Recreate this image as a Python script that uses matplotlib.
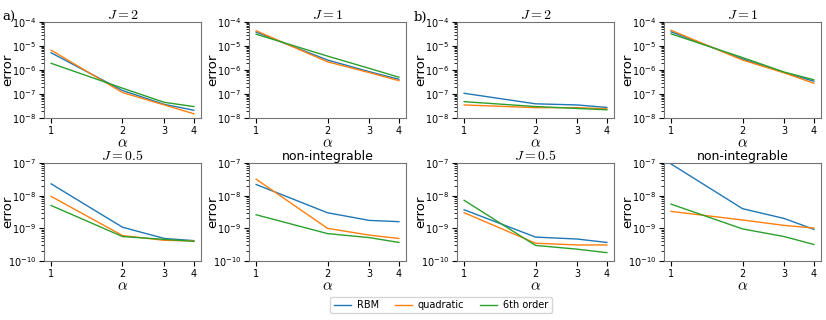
import numpy as np
from matplotlib import pyplot as plt
from matplotlib.ticker import NullLocator, LogLocator

plt.rcParams["mathtext.fontset"] = "cm"

alpha = [1, 2, 3, 4]

# panel a)
a_J2_rbm = [5.2e-6, 1.4e-7, 3.7e-8, 2.1e-8]
a_J2_quad = [6.7e-6, 1.15e-7, 3.5e-8, 1.5e-8]
a_J2_six = [1.9e-6, 1.75e-7, 4.5e-8, 3.0e-8]

a_J1_rbm = [3.8e-5, 2.6e-6, 8.5e-7, 4.1e-7]
a_J1_quad = [4.3e-5, 2.2e-6, 7.8e-7, 3.6e-7]
a_J1_six = [3.1e-5, 3.8e-6, 1.17e-6, 5.0e-7]

a_J05_rbm = [2.3e-8, 1.08e-9, 4.9e-10, 4.2e-10]
a_J05_quad = [9.5e-9, 6.0e-10, 4.3e-10, 4.1e-10]
a_J05_six = [5.0e-9, 5.6e-10, 4.6e-10, 4.0e-10]

a_ni_rbm = [2.2e-8, 3.0e-9, 1.75e-9, 1.6e-9]
a_ni_quad = [3.2e-8, 1.0e-9, 6.2e-10, 4.9e-10]
a_ni_six = [2.6e-9, 6.9e-10, 5.2e-10, 3.7e-10]

# panel b)
b_J2_rbm = [1.07e-7, 3.9e-8, 3.5e-8, 2.75e-8]
b_J2_quad = [3.5e-8, 2.7e-8, 2.7e-8, 2.4e-8]
b_J2_six = [4.8e-8, 3.0e-8, 2.5e-8, 2.2e-8]

b_J1_rbm = [3.9e-5, 2.9e-6, 7.8e-7, 3.4e-7]
b_J1_quad = [4.5e-5, 2.6e-6, 7.6e-7, 2.8e-7]
b_J1_six = [3.2e-5, 3.3e-6, 8.2e-7, 3.9e-7]

b_J05_rbm = [3.7e-9, 5.4e-10, 4.7e-10, 3.7e-10]
b_J05_quad = [3.0e-9, 3.5e-10, 3.1e-10, 3.1e-10]
b_J05_six = [7.2e-9, 3.0e-10, 2.3e-10, 1.8e-10]

b_ni_rbm = [9.3e-8, 4.0e-9, 2.0e-9, 9.3e-10]
b_ni_quad = [3.3e-9, 1.8e-9, 1.23e-9, 1.02e-9]
b_ni_six = [5.5e-9, 9.6e-10, 5.6e-10, 3.2e-10]

titles_top = [r"$J=2$", r"$J=1$", r"$J=2$", r"$J=1$"]
titles_bot = [r"$J=0.5$", "non-integrable", r"$J=0.5$", "non-integrable"]

top_data = [(a_J2_rbm, a_J2_quad, a_J2_six), (a_J1_rbm, a_J1_quad, a_J1_six),
            (b_J2_rbm, b_J2_quad, b_J2_six), (b_J1_rbm, b_J1_quad, b_J1_six)]
bot_data = [(a_J05_rbm, a_J05_quad, a_J05_six), (a_ni_rbm, a_ni_quad, a_ni_six),
            (b_J05_rbm, b_J05_quad, b_J05_six), (b_ni_rbm, b_ni_quad, b_ni_six)]

W, H = 826, 320
fig = plt.figure(figsize=(W / 100, H / 100), dpi=100)

col_left = [44, 249, 457, 664]
col_w = 157


def make_panel(left, top, bottom, series, title, ylim):
   ax = fig.add_axes([left / W, (H - bottom) / H, col_w / W, (bottom - top) / H])
   for s, lab in zip(series, ["RBM", "quadratic", "6th order"]):
      ax.plot(alpha, s, lw=1.0, label=lab)
   ax.set_xscale("log")
   ax.set_yscale("log")
   ax.set_ylim(*ylim)
   ax.yaxis.set_major_locator(LogLocator(base=10, numticks=20))
   ax.yaxis.set_minor_locator(LogLocator(base=10, subs=np.arange(2, 10), numticks=20))
   ax.set_xticks(alpha)
   ax.set_xticklabels([str(a) for a in alpha])
   ax.xaxis.set_minor_locator(NullLocator())
   ax.tick_params(labelsize=7, pad=2)
   ax.tick_params(which="minor", length=2)
   if title.startswith("$"):
      ax.set_title(title, fontsize=10, pad=2)
   else:
      ax.set_title(title, fontsize=9, pad=2)
   ax.set_ylabel("error", fontsize=9.5)
   ax.yaxis.set_label_coords(-0.19, 0.5)
   ax.set_xlabel(r"$\alpha$", fontsize=11, labelpad=0)
   for sp in ax.spines.values():
      sp.set_color("0.45")
   return ax


for i in range(4):
   make_panel(col_left[i], 22, 118, top_data[i], titles_top[i], (1e-8, 1e-4))
   make_panel(col_left[i], 163, 261, bot_data[i], titles_bot[i], (1e-10, 1e-7))

fig.text(2 / W, 1 - 17 / H, "a)", family="serif", fontsize=9.5, va="center")
fig.text(414 / W, 1 - 17 / H, "b)", family="serif", fontsize=9.5, va="center")

handles, labels = fig.axes[0].get_legend_handles_labels()
fig.legend(handles, labels, loc="center", bbox_to_anchor=(441 / W, 1 - 305 / H),
           ncol=3, fontsize=7, handlelength=1.8, handletextpad=0.6,
           columnspacing=1.6, borderpad=0.35)

fig.savefig("out.png", dpi=100)
